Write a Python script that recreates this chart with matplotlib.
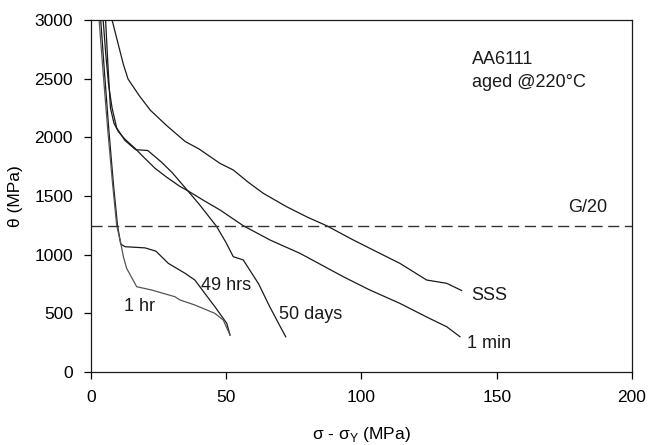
import numpy as np
import matplotlib
matplotlib.use("Agg")
import matplotlib.pyplot as plt

plt.rcParams["font.family"] = ["Liberation Sans", "DejaVu Sans"]
plt.rcParams["mathtext.fontset"] = "custom"
plt.rcParams["mathtext.rm"] = "Liberation Sans"

# curves: (sigma - sigma_Y, theta)
sss_x = [7.8, 10, 12, 13.7, 18, 22, 28, 34.8, 40, 47.7, 52.6, 58, 63.7, 72.3, 80, 87.1, 97, 103.1, 114.2, 124.1, 131.5, 137]
sss_y = [3000, 2800, 2620, 2497, 2350, 2230, 2100, 1965, 1900, 1778, 1722, 1620, 1523, 1409, 1320, 1247, 1125, 1054, 926, 784, 756, 695]

min1_x = [5.4, 6.3, 7.2, 8.5, 10.1, 12.5, 16.3, 19.3, 23.7, 28, 33, 35.4, 41.4, 47.7, 56.3, 66.2, 77.3, 93.3, 103, 114.2, 124, 131.5, 136.4]
min1_y = [3000, 2600, 2250, 2120, 2050, 1985, 1906, 1835, 1736, 1660, 1580, 1550, 1466, 1381, 1247, 1125, 1011, 812, 700, 585, 470, 386, 301]

days50_x = [4.5, 5.5, 6.5, 7.8, 9.5, 12.5, 16.5, 21, 26, 30, 35.4, 40, 46.5, 50, 52.6, 56.3, 62, 66, 70, 72]
days50_y = [3000, 2700, 2450, 2250, 2080, 1975, 1895, 1888, 1790, 1700, 1555, 1430, 1239, 1100, 983, 955, 750, 560, 386, 300]

hrs49_x = [3.6, 5, 6.6, 8.3, 9.8, 11, 12.6, 20, 24, 28.6, 34.8, 38.4, 42.1, 45.8, 50.2, 51.4]
hrs49_y = [3000, 2550, 2063, 1600, 1250, 1090, 1068, 1058, 1030, 926, 841, 784, 670, 557, 415, 315]

hr1_x = [3.0, 4.5, 6.2, 8.0, 9.5, 11, 12, 13.2, 16.9, 22.4, 31, 32.9, 38.4, 45.8, 48.9, 51.4]
hr1_y = [3000, 2550, 2063, 1600, 1250, 1100, 980, 883, 727, 699, 642, 614, 571, 500, 443, 315]

g_over_20 = 1245

fig = plt.figure(figsize=(6.48, 4.45), dpi=100)
ax = fig.add_axes([0.1404, 0.164, 0.8349, 0.791])

line_kw = dict(color="#1a1a1a", linewidth=0.9)
ax.plot(sss_x, sss_y, **line_kw)
ax.plot(min1_x, min1_y, **line_kw)
ax.plot(days50_x, days50_y, **line_kw)
ax.plot(hrs49_x, hrs49_y, **line_kw)
ax.plot(hr1_x, hr1_y, color="#555555", linewidth=0.9)
ax.axhline(g_over_20, color="#333333", linewidth=1.0, dashes=(8, 4))

ax.set_xlim(0, 200)
ax.set_ylim(0, 3000)
ax.set_xticks([0, 50, 100, 150, 200])
ax.set_yticks([0, 500, 1000, 1500, 2000, 2500, 3000])
ax.tick_params(direction="out", length=5, width=0.9, labelsize=12.5, pad=8,
               top=False, right=False)
for s in ax.spines.values():
    s.set_linewidth(0.9)
    s.set_color("#1a1a1a")

ax.set_xlabel(r"σ - σ$_\mathrm{Y}$ (MPa)", fontsize=12.5, labelpad=14)
ax.set_ylabel("θ (MPa)", fontsize=12.5, labelpad=8)

txt = dict(fontsize=13, color="#1a1a1a")
ax.text(140.7, 2660, "AA6111", va="center", **txt)
ax.text(140.7, 2464, "aged @220°C", va="center", **txt)
ax.text(191, 1400, "G/20", ha="right", va="center", **txt)
ax.text(140.7, 656, "SSS", va="center", **txt)
ax.text(138.9, 245, "1 min", va="center", **txt)
ax.text(69.6, 492, "50 days", va="center", **txt)
ax.text(40.6, 741, "49 hrs", va="center", **txt)
ax.text(12.3, 557, "1 hr", va="center", **txt)

fig.savefig("out.png", dpi=100)
